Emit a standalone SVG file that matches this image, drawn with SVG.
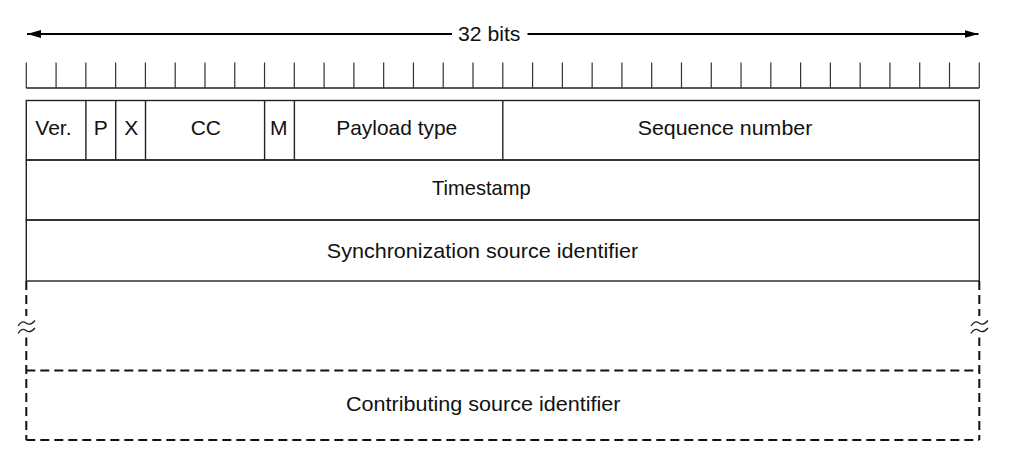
<svg xmlns="http://www.w3.org/2000/svg" width="1023" height="472" viewBox="0 0 1023 472">
  <style>
    .lbl { font-family: "Liberation Sans", Arial, Helvetica, sans-serif; font-size: 21px; fill: #111; text-anchor: middle; }
    .solid { fill: none; stroke: #222; stroke-width: 1.4; }
    .tick { fill: none; stroke: #333; stroke-width: 1.2; }
    .dash { fill: none; stroke: #111; stroke-width: 2; stroke-dasharray: 9 5; }
    .dim { fill: none; stroke: #000; stroke-width: 2; }
    .brk { fill: none; stroke: #222; stroke-width: 1.3; }
  </style>
  <defs>
    <marker id="head" viewBox="0 0 14 8" refX="14" refY="4" markerWidth="14" markerHeight="8" markerUnits="userSpaceOnUse" orient="auto-start-reverse">
      <path d="M0,0 L14,4 L0,8 Z" fill="#000"/>
    </marker>
  </defs>
  <rect width="1023" height="472" fill="#fff"/>

  <!-- width dimension: 32 bits -->
  <g id="width-dimension">
    <line class="dim" x1="27" y1="34" x2="452" y2="34" marker-start="url(#head)"/>
    <line class="dim" x1="527.5" y1="34" x2="978.5" y2="34" marker-end="url(#head)"/>
    <text class="lbl" x="489.2" y="41" textLength="62.5" lengthAdjust="spacingAndGlyphs">32 bits</text>
  </g>

  <!-- bit ruler: 32 cells, 29.78 px each -->
  <g id="bit-ruler">
    <line class="solid" x1="26.3" y1="88" x2="979.3" y2="88"/>
    <path class="tick" d="M26.3,62.5V88 M56.08,62.5V88 M85.86,62.5V88 M115.64,62.5V88 M145.42,62.5V88 M175.2,62.5V88 M204.98,62.5V88 M234.76,62.5V88 M264.54,62.5V88 M294.32,62.5V88 M324.1,62.5V88 M353.88,62.5V88 M383.66,62.5V88 M413.44,62.5V88 M443.22,62.5V88 M473,62.5V88 M502.8,62.5V88 M532.58,62.5V88 M562.36,62.5V88 M592.14,62.5V88 M621.92,62.5V88 M651.7,62.5V88 M681.48,62.5V88 M711.26,62.5V88 M741.04,62.5V88 M770.82,62.5V88 M800.6,62.5V88 M830.38,62.5V88 M860.16,62.5V88 M889.94,62.5V88 M919.72,62.5V88 M949.5,62.5V88 M979.3,62.5V88"/>
  </g>

  <!-- header word 1 -->
  <g id="row-fixed-header">
    <rect class="solid" x="26.3" y="100.5" width="953" height="59.5"/>
    <path class="solid" d="M85.9,100.5V160 M115.7,100.5V160 M145.5,100.5V160 M264.6,100.5V160 M294.4,100.5V160 M502.8,100.5V160"/>
  </g>
  <g id="field-ver"><text class="lbl" x="53.4" y="135">Ver.</text></g>
  <g id="field-p"><text class="lbl" x="100.8" y="135">P</text></g>
  <g id="field-x"><text class="lbl" x="131.3" y="135">X</text></g>
  <g id="field-cc"><text class="lbl" x="205.8" y="135">CC</text></g>
  <g id="field-m"><text class="lbl" x="278.7" y="135">M</text></g>
  <g id="field-payload-type"><text class="lbl" x="396.7" y="135" textLength="121" lengthAdjust="spacingAndGlyphs">Payload type</text></g>
  <g id="field-sequence-number"><text class="lbl" x="725" y="135" textLength="174.5" lengthAdjust="spacingAndGlyphs">Sequence number</text></g>

  <!-- timestamp word -->
  <g id="field-timestamp">
    <rect class="solid" x="26.3" y="160" width="953" height="60"/>
    <text class="lbl" x="481.3" y="195" textLength="98.5" lengthAdjust="spacingAndGlyphs">Timestamp</text>
  </g>

  <!-- SSRC word -->
  <g id="field-ssrc">
    <rect class="solid" x="26.3" y="220" width="953" height="61"/>
    <text class="lbl" x="482.5" y="258.3" textLength="311.5" lengthAdjust="spacingAndGlyphs">Synchronization source identifier</text>
  </g>

  <!-- optional CSRC list (dashed) -->
  <g id="field-csrc">
    <path class="dash" d="M26.3,281V440 M979.3,281V440"/>
    <path class="dash" d="M26.3,370.5H979.3 M26.3,440H979.3"/>
    <text class="lbl" x="483.3" y="411" textLength="274.5" lengthAdjust="spacingAndGlyphs">Contributing source identifier</text>
  </g>

  <!-- break marks on the side edges -->
  <g id="break-marks">
    <rect x="22" y="316" width="9" height="21.5" fill="#fff"/>
    <path class="brk" d="M18,326 C20.5,321.5 23.5,321 26,323 C28.5,325 31.5,324.5 35,320.5"/>
    <path class="brk" d="M18,333.5 C20.5,329 23.5,328.5 26,330.5 C28.5,332.5 31.5,332 35,328"/>
    <rect x="975" y="316" width="9" height="21.5" fill="#fff"/>
    <path class="brk" d="M971,326 C973.5,321.5 976.5,321 979,323 C981.5,325 984.5,324.5 988,320.5"/>
    <path class="brk" d="M971,333.5 C973.5,329 976.5,328.5 979,330.5 C981.5,332.5 984.5,332 988,328"/>
  </g>
</svg>
